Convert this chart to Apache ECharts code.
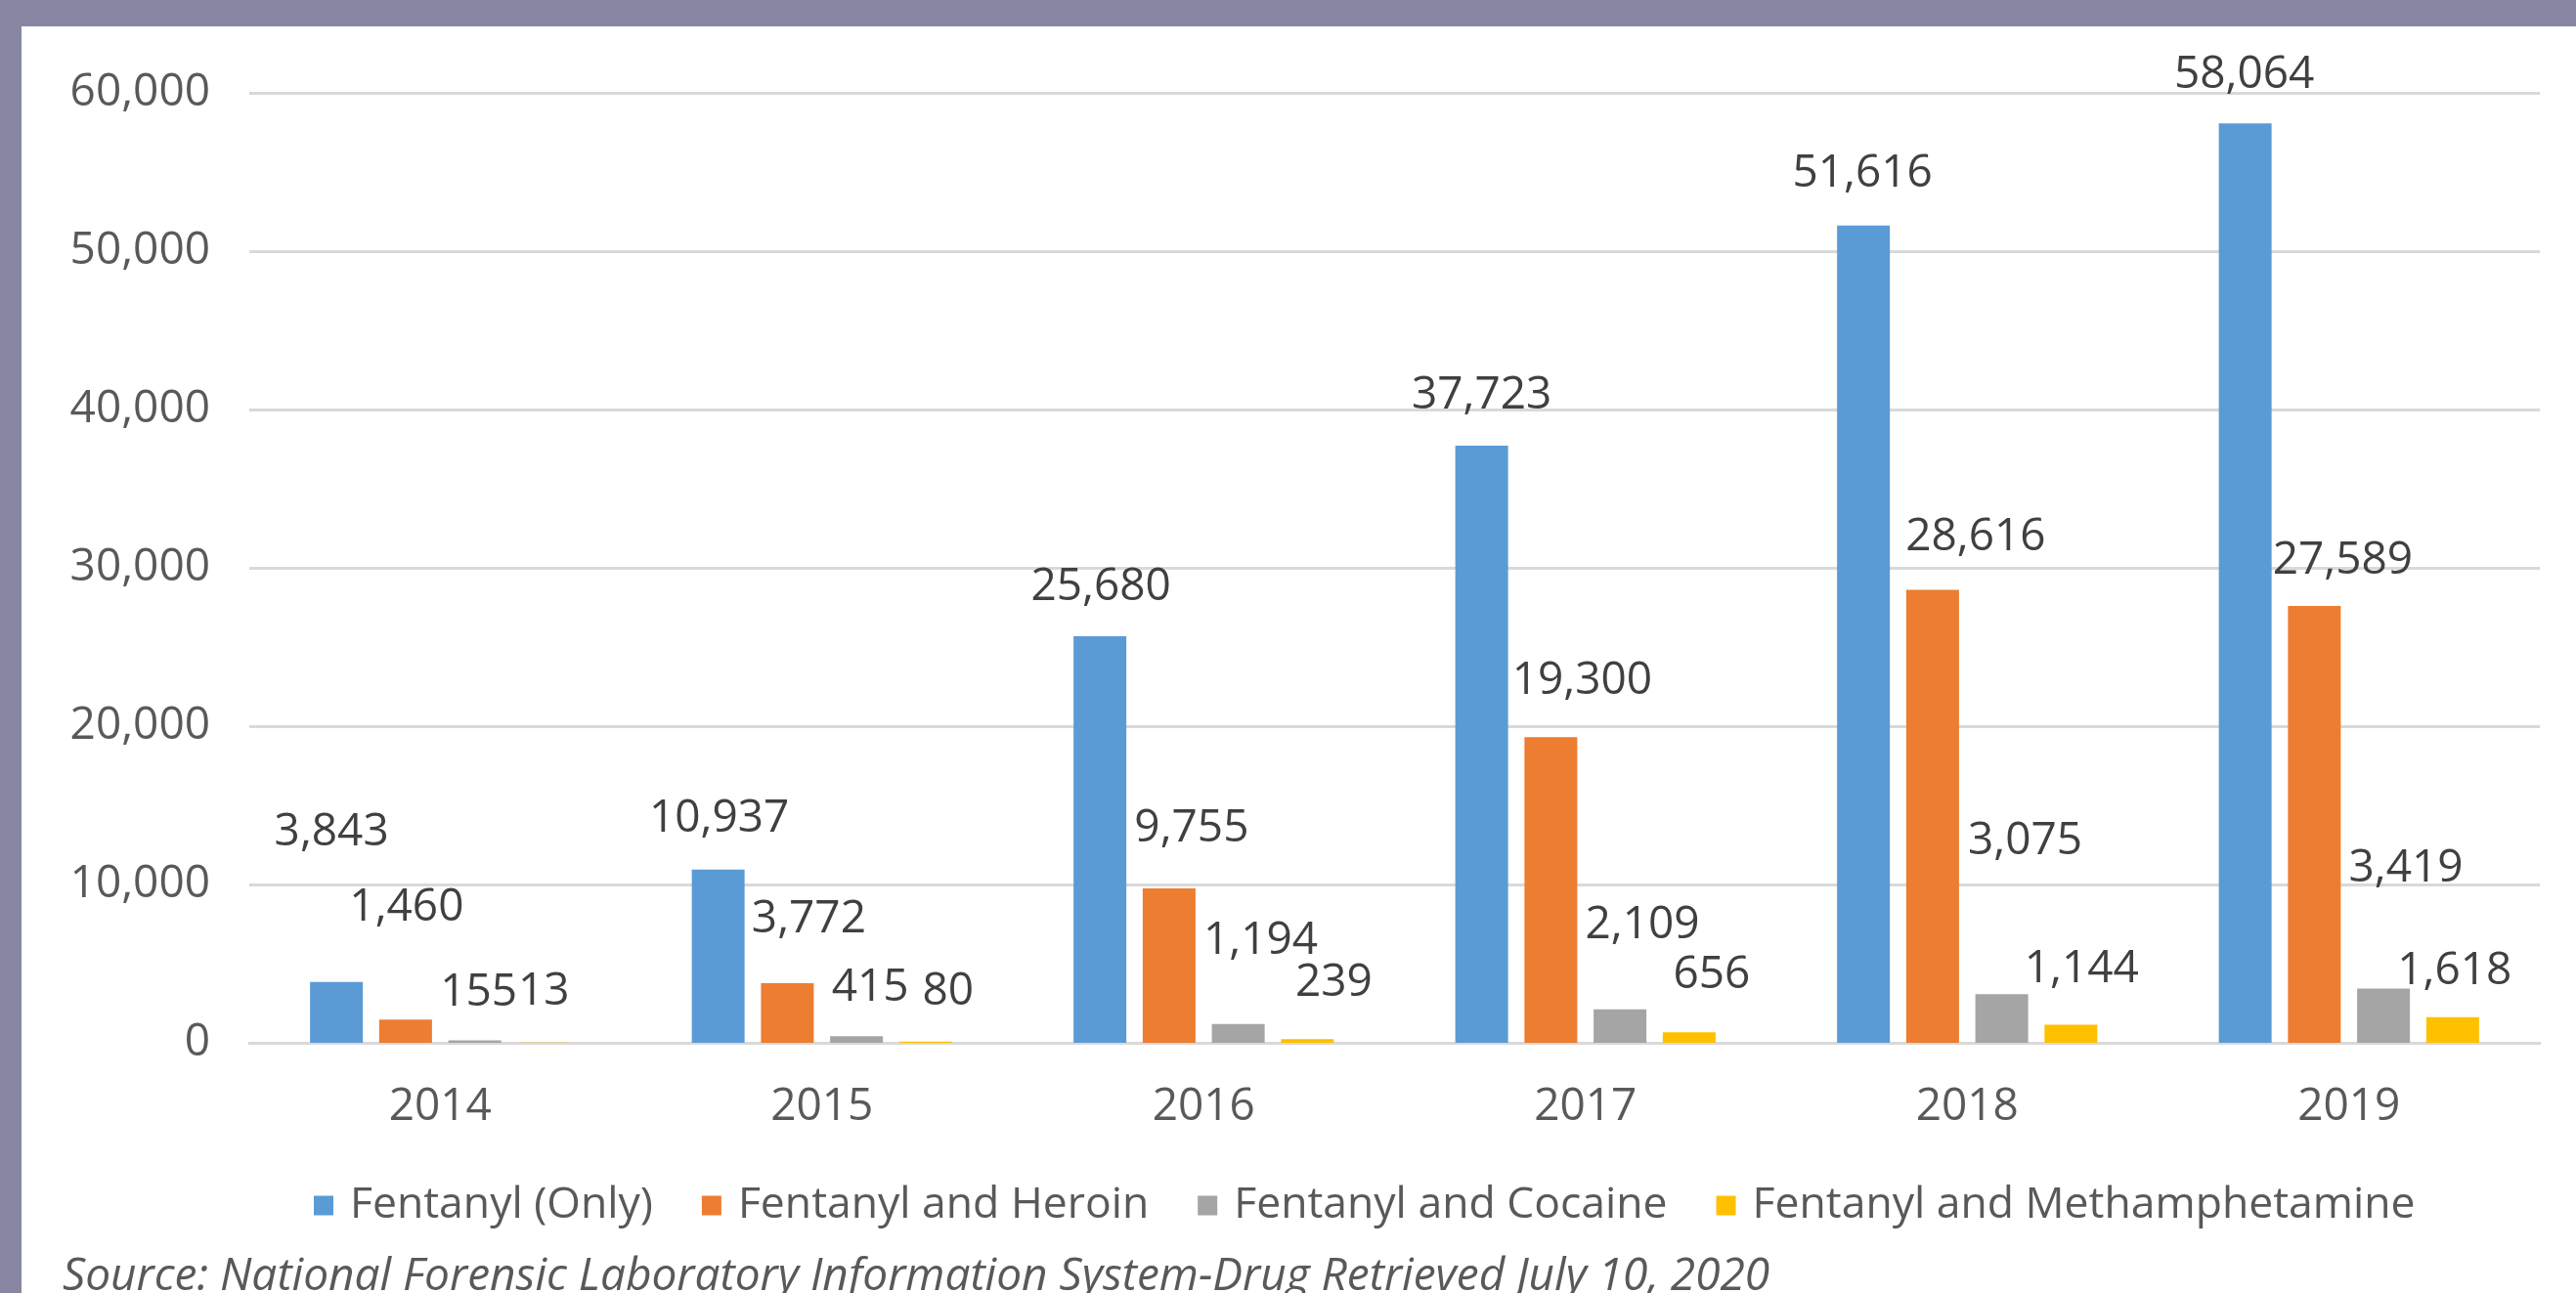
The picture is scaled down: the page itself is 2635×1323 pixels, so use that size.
<!DOCTYPE html>
<html>
<head>
<meta charset="utf-8">
<script src="https://cdn.jsdelivr.net/npm/echarts@6/dist/echarts.min.js"></script>
<style>
html,body{margin:0;padding:0;background:#ffffff;}
#chart{width:2635px;height:1323px;}
</style>
</head>
<body>
<div id="chart"></div>
<script>
// ---------- DATA ----------
const categories = ['2014', '2015', '2016', '2017', '2018', '2019'];
const seriesNames = ['Fentanyl (Only)', 'Fentanyl and Heroin', 'Fentanyl and Cocaine', 'Fentanyl and Methamphetamine'];
const fentanylOnly    = [3843, 10937, 25680, 37723, 51616, 58064];
const fentanylHeroin  = [1460, 3772, 9755, 19300, 28616, 27589];
const fentanylCocaine = [155, 415, 1194, 2109, 3075, 3419];
const fentanylMeth    = [13, 80, 239, 656, 1144, 1618];
const yAxisMax = 60000;
const yAxisStep = 10000;
const sourceNote = 'Source: National Forensic Laboratory Information System-Drug Retrieved July 10, 2020';

// ---------- STYLE ----------
const colors = ['#5B9BD5', '#ED7D31', '#A5A5A5', '#FFC000'];
// manual label nudges (px) mimicking the hand-placed labels of the original
const labelNudges = [
  [[-5,-102],[1,-1],[1,1],[0,0],[-1,-2],[-1,2]],
  [[1,-63],[22,-14],[23,-10],[32,-6],[44,-3],[29,5]],
  [[4,2],[14,2],[23,-34],[23,-35],[24,-105],[23,-72]],
  [[0,-1],[23,0],[27,-6],[23,-7],[11,-6],[2,4]]
];
const FONT = '"Open Sans", "Noto Sans", sans-serif';
const fmt = v => Number(v).toLocaleString('en-US');

const seriesValues = [fentanylOnly, fentanylHeroin, fentanylCocaine, fentanylMeth];

const chart = echarts.init(document.getElementById('chart'), null, {renderer: 'canvas'});

const series = seriesValues.map((vals, si) => ({
  name: seriesNames[si],
  type: 'bar',
  barWidth: 54,
  barGap: '31%',
  itemStyle: {color: colors[si]},
  label: {
    show: true,
    position: 'top',
    distance: 28,
    color: '#404040',
    fontFamily: FONT,
    fontSize: 46,
    formatter: p => fmt(p.value)
  },
  data: vals.map((v, i) => ({
    value: v,
    label: {offset: labelNudges[si][i]}
  }))
}));

chart.setOption({
  animation: false,
  backgroundColor: '#ffffff',
  textStyle: {fontFamily: FONT},
  grid: {left: 255, right: 37, top: 95, bottom: 256, containLabel: false},
  legend: {
    data: seriesNames,
    left: 316,
    top: 1206,
    itemWidth: 20,
    itemHeight: 20,
    itemGap: 50,
    icon: 'rect',
    textStyle: {color: '#595959', fontSize: 44.5, fontFamily: FONT, padding: [0, 0, 0, 12]}
  },
  xAxis: {
    type: 'category',
    data: categories,
    axisTick: {show: false},
    axisLine: {show: true, lineStyle: {color: '#d9d9d9', width: 3}},
    axisLabel: {color: '#595959', fontSize: 46, fontFamily: FONT, margin: 43}
  },
  yAxis: {
    type: 'value',
    min: 0,
    max: yAxisMax,
    interval: yAxisStep,
    axisLine: {show: false},
    axisTick: {show: false},
    splitLine: {lineStyle: {color: '#d9d9d9', width: 3}},
    axisLabel: {color: '#595959', fontSize: 46, fontFamily: FONT, margin: 40, formatter: v => fmt(v)}
  },
  graphic: [
    {type: 'rect', shape: {x: 0, y: 0, width: 2635, height: 27}, style: {fill: '#8686a2'}, z: 100},
    {type: 'rect', shape: {x: 0, y: 0, width: 22, height: 1323}, style: {fill: '#8686a2'}, z: 100},
    {type: 'text', x: 64, y: 1307, style: {
      text: sourceNote, fill: '#595959',
      font: 'italic 46px "Open Sans", "Noto Sans", sans-serif',
      verticalAlign: 'middle', align: 'left'
    }, z: 100}
  ],
  series: series
});
</script>
</body>
</html>
